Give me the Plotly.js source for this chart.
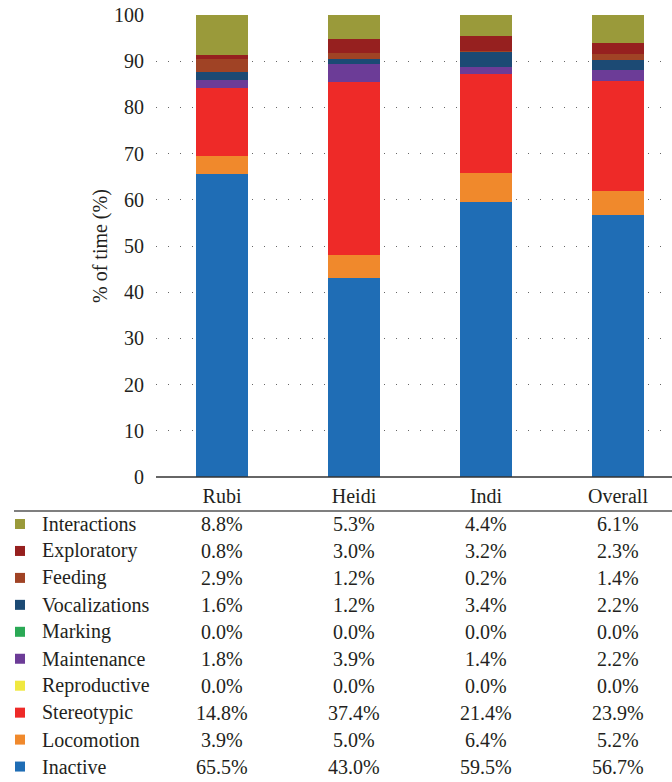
<!DOCTYPE html>
<html><head><meta charset="utf-8">
<script src="https://cdn.plot.ly/plotly-3.0.1.min.js"></script>
<style>html,body{margin:0;padding:0;background:#fff;}#chart{width:672px;height:782px;}</style>
</head><body><div id="chart"></div>
<script>
// ---- data ----
const categories = ['Rubi', 'Heidi', 'Indi', 'Overall'];
const behaviors = ['Interactions', 'Exploratory', 'Feeding', 'Vocalizations', 'Marking',
                   'Maintenance', 'Reproductive', 'Stereotypic', 'Locomotion', 'Inactive'];
const interactions  = [8.8, 5.3, 4.4, 6.1];
const exploratory   = [0.8, 3.0, 3.2, 2.3];
const feeding       = [2.9, 1.2, 0.2, 1.4];
const vocalizations = [1.6, 1.2, 3.4, 2.2];
const marking       = [0.0, 0.0, 0.0, 0.0];
const maintenance   = [1.8, 3.9, 1.4, 2.2];
const reproductive  = [0.0, 0.0, 0.0, 0.0];
const stereotypic   = [14.8, 37.4, 21.4, 23.9];
const locomotion    = [3.9, 5.0, 6.4, 5.2];
const inactive      = [65.5, 43.0, 59.5, 56.7];
const yTicks = [0, 10, 20, 30, 40, 50, 60, 70, 80, 90, 100];

const seriesValues = [interactions, exploratory, feeding, vocalizations, marking,
                      maintenance, reproductive, stereotypic, locomotion, inactive];
const colors = ['#9a9a3a', '#96201f', '#a04325', '#1c4a74', '#2aa955',
                '#6c3c97', '#f0e840', '#ee2a28', '#f0892c', '#1f6db5'];

// ---- geometry (pixels) ----
const W = 672, H = 782;
const mL = 156, mR = 0, mT = 15, mB = 305;
const pw = W - mL - mR, ph = H - mT - mB;
const axisY = H - mB;
const px2x = p => (p - mL) / pw;
const py2y = p => (axisY - p) / ph;

const font = 'Liberation Serif';
const txt = '#231f20';
const fs = 20;

// stacked traces bottom to top
const traces = [];
for (let i = behaviors.length - 1; i >= 0; i--) {
  traces.push({
    type: 'bar', x: categories.map((c, j) => j), y: seriesValues[i], name: behaviors[i],
    marker: {color: colors[i], line: {width: 0}}, width: 0.4, showlegend: false,
    hoverinfo: 'skip'
  });
}

const annotations = [];
const shapes = [];
const rowY0 = 524, rowPitch = 26.95;
behaviors.forEach((b, i) => {
  const yc = rowY0 + i * rowPitch;
  shapes.push({type: 'rect', xref: 'paper', yref: 'paper',
    x0: px2x(15), x1: px2x(25), y0: py2y(yc + 5), y1: py2y(yc - 5),
    fillcolor: colors[i], line: {width: 0}});
  annotations.push({xref: 'paper', yref: 'paper', x: px2x(40), y: py2y(yc),
    xanchor: 'left', yanchor: 'middle', text: b, showarrow: false,
    font: {family: font, size: fs, color: txt}});
  seriesValues[i].forEach((v, j) => {
    annotations.push({xref: 'x', yref: 'paper', x: j, y: py2y(yc),
      xanchor: 'center', yanchor: 'middle', text: v.toFixed(1) + '%', showarrow: false,
      font: {family: font, size: fs, color: txt}});
  });
});
// table line
shapes.push({type: 'line', xref: 'paper', yref: 'paper', x0: px2x(14), x1: 1,
  y0: py2y(511), y1: py2y(511), line: {color: '#555', width: 1.3}});
// zero axis line
shapes.push({type: 'line', xref: 'paper', yref: 'paper', x0: 0, x1: 1,
  y0: 0, y1: 0, line: {color: '#333', width: 1.3}});
// y title
annotations.push({xref: 'paper', yref: 'paper', x: px2x(100), y: py2y(246),
  xanchor: 'center', yanchor: 'middle', textangle: -90, text: '% of time (%)',
  showarrow: false, font: {family: font, size: fs, color: txt}});

const layout = {
  width: W, height: H,
  margin: {l: mL, r: mR, t: mT, b: mB, pad: 0},
  paper_bgcolor: '#fff', plot_bgcolor: '#fff',
  barmode: 'stack',
  xaxis: {range: [-0.5, 3 + 54 / 132], tickvals: [0, 1, 2, 3], ticktext: categories,
    showgrid: false, zeroline: false, showline: false, ticks: '',
    tickfont: {family: font, size: fs, color: txt}, ticklabelstandoff: 5, fixedrange: true},
  yaxis: {range: [0, 100], tickvals: yTicks, showgrid: true,
    gridcolor: '#666', griddash: '1px,11px', gridwidth: 1,
    zeroline: false, showline: false, ticks: '',
    tickfont: {family: font, size: fs, color: txt}, ticklabelstandoff: 11, fixedrange: true},
  shapes: shapes,
  annotations: annotations,
  showlegend: false
};

Plotly.newPlot('chart', traces, layout, {displayModeBar: false});
</script>
</body></html>
